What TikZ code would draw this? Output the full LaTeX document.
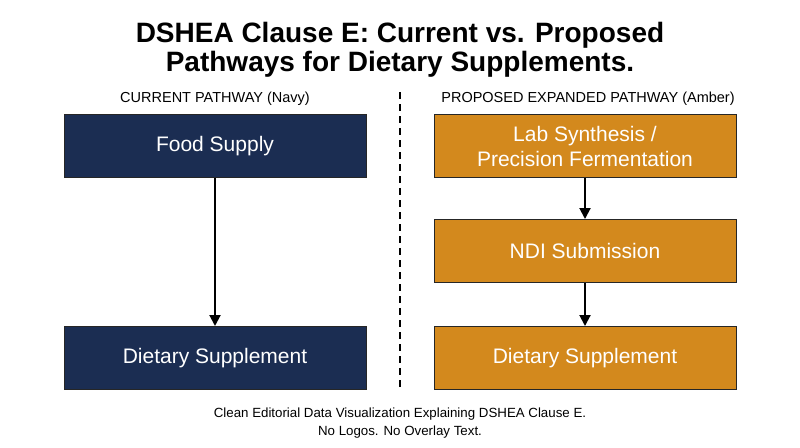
\documentclass[tikz,border=0pt]{standalone}
\usepackage{fontspec}
\setmainfont{Liberation Sans}
\usetikzlibrary{arrows.meta,positioning}
\definecolor{navybox}{HTML}{1B2D52}
\definecolor{amberbox}{HTML}{D3891D}

\begin{document}
\begin{tikzpicture}[x=1pt, y=-1pt,
  pathbox/.style={draw=black!85, line width=1pt, minimum width=302pt, minimum height=63pt,
                  text=white, align=center, font=\fontsize{21}{25}\selectfont},
  navystep/.style={pathbox, fill=navybox},
  amberstep/.style={pathbox, fill=amberbox},
  flow/.style={-{Triangle[width=11pt,length=11pt]}, line width=2pt},
  colhead/.style={font=\fontsize{14.5}{16}\selectfont}]
  \useasboundingbox (0,0) rectangle (800,447);
  % Title
  \node[font=\bfseries\fontsize{28}{29}\selectfont, align=center] (title) at (400,50)
    {DSHEA Clause E: Current vs. Proposed\\Pathways for Dietary Supplements.};
  % Column headings
  \node[colhead] (curhead)  at (215,99) {CURRENT PATHWAY (Navy)};
  \node[colhead] (prophead) at (588,99) {PROPOSED EXPANDED PATHWAY (Amber)};
  % Current pathway
  \node[navystep] (food)    at (215,146) {Food Supply};
  \node[navystep] (cursupp) at (215,358) {Dietary Supplement};
  % Proposed pathway
  \node[amberstep] (lab)     at (585,146) {Lab Synthesis /\\Precision Fermentation};
  \node[amberstep] (ndi)     at (585,251) {NDI Submission};
  \node[amberstep] (propsupp) at (585,358) {Dietary Supplement};
  % Arrows
  \draw[flow] (food) -- (cursupp);
  \draw[flow] (lab) -- (ndi);
  \draw[flow] (ndi) -- (propsupp);
  % Divider
  \coordinate (divtop) at (400,92);
  \coordinate (divbot) at (400,390);
  \draw[line width=1.5pt, dash pattern=on 7pt off 5pt] (divtop) -- (divbot);
  % Footnote
  \node[font=\fontsize{13.3}{18}\selectfont, align=center] (foot) at (400,423)
    {Clean Editorial Data Visualization Explaining DSHEA Clause E.\\No Logos. No Overlay Text.};
\end{tikzpicture}
\end{document}
